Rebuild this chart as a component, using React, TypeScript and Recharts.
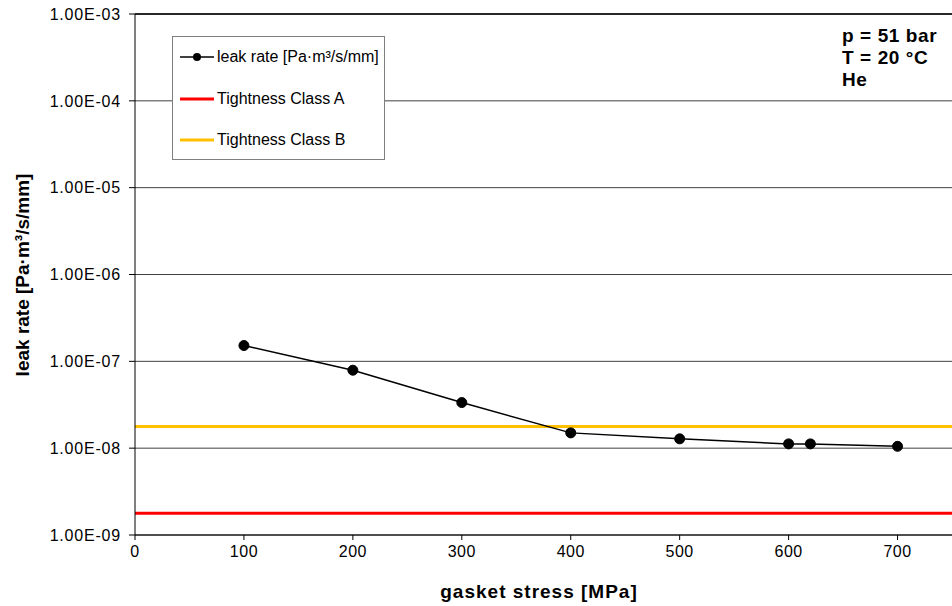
import React from "react";
import { LineChart, Line, XAxis, YAxis, CartesianGrid, ReferenceLine } from "recharts";

const gasketStress = [100, 200, 300, 400, 500, 600, 620, 700];
const leakRate = [1.52e-7, 7.9e-8, 3.35e-8, 1.5e-8, 1.28e-8, 1.12e-8, 1.12e-8, 1.05e-8];
const tightnessClassA = 1.78e-9;
const tightnessClassB = 1.78e-8;
const xTicks = [0, 100, 200, 300, 400, 500, 600, 700];
const yTicks = [1e-9, 1e-8, 1e-7, 1e-6, 1e-5, 1e-4, 1e-3];
const annotationLines = ["p = 51 bar", "T = 20 °C", "He"];
const legendLabels = ["leak rate [Pa·m³/s/mm]", "Tightness Class A", "Tightness Class B"];

const data = gasketStress.map((x, i) => ({ x, leak: leakRate[i] }));

const FONT = "'Liberation Sans', Arial, sans-serif";

const fmtExp = (v: number) => {
  const e = Math.floor(Math.log10(v) + 1e-9);
  const m = v / Math.pow(10, e);
  const es = Math.abs(e).toString().padStart(2, "0");
  return `${m.toFixed(2)}E${e < 0 ? "-" : "+"}${es}`;
};

export default function App() {
  return (
    <div style={{ position: "absolute", left: 0, top: 0, width: 952, height: 606, background: "#fff", fontFamily: FONT }}>
      <LineChart width={952} height={606} data={data} margin={{ top: 14, right: 0, bottom: 0, left: 0 }}>
        <CartesianGrid vertical={false} stroke="#404040" strokeWidth={1} />
        <XAxis
          dataKey="x"
          type="number"
          domain={[0, 750]}
          ticks={xTicks}
          allowDataOverflow
          height={71}
          stroke="#000"
          tickSize={5}
          tickMargin={6}
          tick={{ fontSize: 16, fill: "#000", fontFamily: FONT, letterSpacing: 0.5 }}
        />
        <YAxis
          type="number"
          scale="log"
          domain={[1e-9, 1e-3]}
          ticks={yTicks}
          allowDataOverflow
          width={135}
          stroke="#000"
          tickSize={6}
          tickMargin={8}
          tickFormatter={fmtExp}
          tick={{ fontSize: 16, fill: "#000", fontFamily: FONT, letterSpacing: 0.8 }}
        />
        <ReferenceLine y={tightnessClassA} stroke="#FF0000" strokeWidth={3} />
        <ReferenceLine y={tightnessClassB} stroke="#FFC000" strokeWidth={3} />
        <Line
          dataKey="leak"
          stroke="#000"
          strokeWidth={1.5}
          dot={{ r: 5, fill: "#000", stroke: "#000", strokeWidth: 1 }}
          isAnimationActive={false}
        />
      </LineChart>

      <svg width={952} height={606} style={{ position: "absolute", left: 0, top: 0, pointerEvents: "none" }}>
        <line x1={135} y1={14} x2={952} y2={14} stroke="#000" strokeWidth={1.5} />
        <text
          x={0}
          y={0}
          transform="translate(29,275) rotate(-90)"
          textAnchor="middle"
          fontSize={19}
          fontWeight="bold"
          fontFamily={FONT}
          fill="#000"
        >
          leak rate [Pa·m³/s/mm]
        </text>
        <text x={539} y={598} textAnchor="middle" fontSize={19} fontWeight="bold" fontFamily={FONT} letterSpacing={1} fill="#000">
          gasket stress [MPa]
        </text>
        {annotationLines.map((t, i) => (
          <text key={t} x={842} y={42 + i * 22} fontSize={19} fontWeight="bold" fontFamily={FONT} letterSpacing={0.6} fill="#000">
            {t}
          </text>
        ))}
      </svg>

      <div
        style={{
          position: "absolute",
          left: 172,
          top: 36,
          width: 213,
          height: 124,
          border: "1px solid #7f7f7f",
          background: "#fff",
          boxSizing: "border-box",
        }}
      >
        {legendLabels.map((label, i) => (
          <div
            key={label}
            style={{ position: "absolute", left: 6, top: 10 + i * 41.5, height: 20, display: "flex", alignItems: "center", whiteSpace: "nowrap" }}
          >
            <svg width={36} height={20} style={{ display: "block" }}>
              {i === 0 ? (
                <>
                  <line x1={1} y1={10} x2={35} y2={10} stroke="#000" strokeWidth={1.5} />
                  <circle cx={18} cy={10} r={4} fill="#000" />
                </>
              ) : (
                <line x1={1} y1={10} x2={35} y2={10} stroke={i === 1 ? "#FF0000" : "#FFC000"} strokeWidth={3} />
              )}
            </svg>
            <span style={{ fontSize: 16, fontFamily: FONT, color: "#000", marginLeft: 2 }}>{label}</span>
          </div>
        ))}
      </div>
    </div>
  );
}
